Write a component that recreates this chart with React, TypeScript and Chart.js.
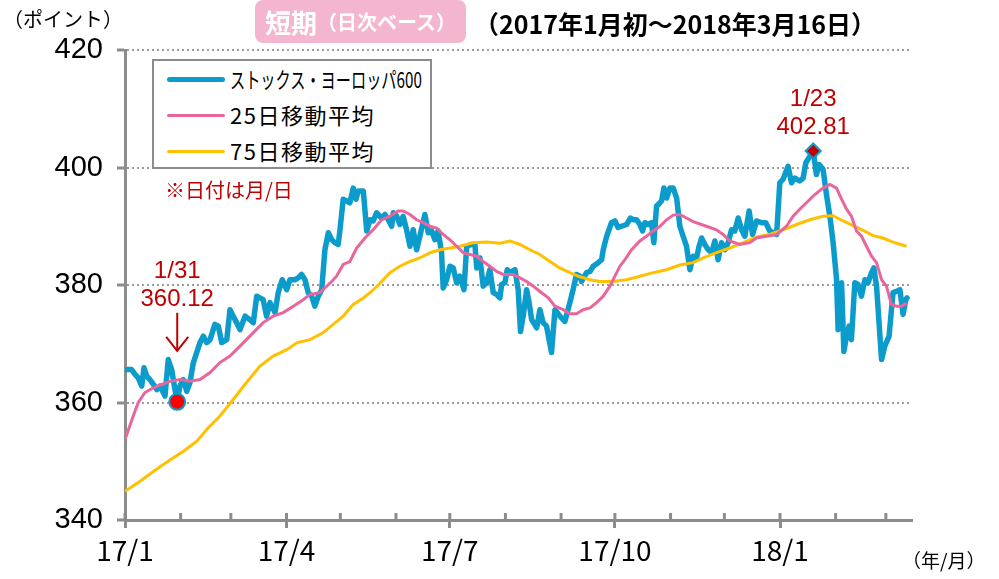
import React, { useEffect, useRef } from "react";
import { Chart, registerables } from "chart.js";

Chart.register(...registerables);

// x values are calendar-day offsets from 2017-01-01
const stoxxDays = [
  0, 3.7, 5.6, 7.4, 9.3, 10.6, 12.1, 13.9, 15.8, 17.7,
  19.5, 22.3, 24.1, 26.0, 27.5, 29.1, 30.6, 32.5, 34.4, 36.2,
  38.1, 41.8, 43.6, 45.5, 47.4, 50.1, 52.0, 53.9, 56.7, 58.5,
  60.3, 62.2, 64.1, 66.9, 69.6, 71.5, 73.4, 75.2, 77.0, 78.9,
  80.8, 83.6, 85.4, 87.6, 90.1, 91.9, 94.7, 96.5, 98.4, 100.3,
  102.1, 104.0, 105.8, 107.7, 109.6, 111.4, 113.3, 115.2, 117.0, 118.8,
  119.8, 121.6, 123.5, 125.3, 127.2, 128.7, 130.0, 132.8, 134.7, 136.5,
  138.3, 140.2, 143.0, 144.8, 146.7, 148.6, 149.5, 151.4, 153.2, 155.0,
  156.9, 158.8, 160.6, 162.5, 164.3, 167.1, 169.0, 170.9, 172.7, 174.5,
  176.4, 177.3, 179.2, 181.1, 182.9, 184.8, 186.6, 188.9, 190.4, 193.2,
  195.0, 196.0, 197.8, 199.6, 201.5, 203.3, 205.2, 207.1, 208.9, 209.9,
  211.7, 213.0, 214.5, 217.3, 219.1, 220.4, 221.9, 223.8, 225.2, 226.6,
  229.4, 231.2, 233.0, 234.9, 237.7, 239.6, 242.3, 245.1, 247.9, 249.7,
  251.6, 253.5, 254.4, 257.2, 259.1, 260.9, 263.7, 265.6, 266.5, 268.4,
  271.1, 273.0, 274.8, 276.7, 279.5, 281.7, 283.2, 285.1, 286.9, 288.4,
  289.7, 291.5, 293.4, 294.7, 296.2, 298.1, 299.0, 300.3, 301.8, 303.6,
  305.5, 307.4, 309.2, 311.0, 312.9, 314.8, 316.6, 318.5, 319.9, 321.3,
  323.1, 325.0, 326.9, 328.7, 330.5, 332.4, 334.3, 336.1, 338.0, 339.8,
  341.7, 343.6, 345.4, 347.8, 349.7, 351.9, 354.7, 357.1, 359.3, 361.2,
  363.1, 364.9, 366.7, 369.5, 371.4, 373.3, 376.0, 377.9, 379.4, 381.6,
  383.5, 385.3, 386.8, 389.0, 390.9, 392.8, 394.6, 396.5, 397.4, 399.3,
  400.6, 402.1, 403.5, 404.8, 406.7, 408.5, 410.4, 412.3, 414.1, 416.0,
  417.3, 418.8, 421.6, 423.4, 425.8, 427.1, 428.0, 429.9, 431.8, 433.6,
  435.1, 435.8,
];
const stoxxValues = [
  365.6, 365.6, 364.8, 364.2, 362.8, 365.9, 364.5, 363.9, 363.1, 362.2,
  362.8, 361.1, 367.3, 365.6, 362.8, 360.12, 362.8, 363.9, 361.9, 363.4,
  366.8, 370.2, 371.3, 370.2, 370.7, 373.3, 373.0, 370.2, 370.7, 375.8,
  374.7, 373.6, 372.4, 374.7, 374.1, 373.6, 378.1, 377.8, 377.5, 374.7,
  377.0, 375.3, 378.7, 380.9, 379.2, 380.9, 380.9, 381.2, 381.8, 380.9,
  378.7, 378.1, 376.4, 378.1, 379.2, 386.0, 388.9, 387.7, 387.2, 386.9,
  389.4, 394.6, 394.3, 394.0, 396.5, 394.6, 396.0, 396.0, 389.2, 391.1,
  390.9, 392.3, 391.4, 392.0, 391.1, 390.0, 392.3, 391.7, 390.3, 391.7,
  389.4, 386.6, 389.4, 386.0, 388.3, 392.0, 388.9, 389.2, 387.7, 389.2,
  385.5, 379.5, 380.9, 383.2, 382.9, 380.4, 381.5, 379.2, 386.6, 386.9,
  386.9, 382.9, 384.6, 379.8, 380.4, 382.6, 378.7, 378.4, 377.8, 380.1,
  380.4, 382.6, 382.1, 382.6, 379.2, 372.1, 374.7, 379.2, 377.0, 374.1,
  372.7, 375.8, 373.6, 373.0, 368.5, 375.8, 374.7, 373.8, 377.0, 379.2,
  381.8, 381.5, 380.6, 382.1, 382.3, 383.2, 383.8, 384.3, 386.0, 388.3,
  390.6, 390.9, 389.8, 390.0, 390.3, 391.4, 391.1, 391.1, 390.3, 389.2,
  390.6, 390.3, 390.6, 387.2, 393.4, 394.0, 394.3, 396.5, 394.8, 396.5,
  396.5, 394.8, 390.0, 388.3, 386.6, 382.6, 384.9, 384.6, 386.6, 388.0,
  386.9, 386.0, 385.5, 387.5, 384.3, 387.2, 386.0, 387.2, 389.4, 389.2,
  391.4, 389.4, 388.3, 392.6, 388.6, 390.9, 390.6, 390.6, 389.2, 388.9,
  388.6, 397.4, 398.0, 400.2, 397.4, 398.2, 397.7, 398.2, 400.8, 401.9,
  402.81, 398.8, 400.5, 399.7, 395.4, 391.7, 387.2, 381.0, 372.4, 380.4,
  368.7, 371.3, 373.0, 370.7, 380.4, 380.1, 378.1, 380.9, 380.4, 382.1,
  382.9, 379.8, 367.3, 369.6, 371.3, 375.8, 378.7, 378.9, 379.2, 375.0,
  377.5, 377.8,
];

const ma25Days = [
  0, 4.6, 7.4, 11.1, 15.8, 20.4, 25.1, 30.6, 36.2, 41.8,
  47.4, 52.9, 58.5, 64.1, 71.5, 77.0, 82.6, 88.2, 93.8, 99.3,
  103.1, 108.6, 111.4, 115.2, 117.9, 121.6, 125.3, 129.1, 133.7, 138.3,
  143.0, 147.6, 152.3, 155.0, 158.8, 162.5, 166.2, 169.9, 173.6, 177.3,
  181.1, 184.8, 188.5, 192.2, 195.9, 199.6, 203.3, 207.1, 210.8, 216.3,
  220.1, 223.8, 227.5, 231.2, 235.9, 239.6, 244.2, 247.9, 251.6, 255.3,
  259.1, 262.8, 266.5, 270.2, 273.0, 275.8, 278.6, 282.3, 286.9, 290.6,
  294.3, 298.1, 301.8, 305.5, 309.2, 312.9, 316.6, 324.0, 329.6, 333.3,
  337.0, 342.6, 348.2, 351.9, 357.5, 363.1, 368.6, 372.3, 376.0, 380.7,
  384.4, 389.0, 392.8, 396.5, 399.3, 402.1, 404.8, 407.6, 410.4, 413.2,
  416.0, 418.8, 421.6, 424.3, 427.1, 429.9, 432.7, 435.5,
];
const ma25Values = [
  353.7, 357.7, 360.0, 361.7, 362.5, 363.1, 363.6, 363.9, 363.6, 363.9,
  365.1, 366.8, 367.9, 369.6, 371.9, 373.6, 374.7, 375.3, 376.4, 377.5,
  378.4, 378.7, 379.5, 380.6, 381.5, 383.5, 384.0, 386.3, 388.0, 389.4,
  391.1, 391.7, 392.6, 392.6, 392.0, 391.1, 390.6, 390.0, 389.7, 388.6,
  387.7, 386.6, 385.5, 385.2, 384.9, 384.0, 383.2, 382.3, 381.8, 381.8,
  381.2, 380.6, 379.8, 378.9, 377.8, 376.4, 375.8, 375.1, 375.1, 375.8,
  376.1, 377.0, 378.1, 379.8, 381.5, 383.2, 384.3, 386.0, 387.5, 388.3,
  389.2, 390.0, 391.1, 391.9, 392.0, 391.4, 390.8, 390.0, 389.4, 388.6,
  387.5, 386.9, 387.2, 388.0, 388.3, 388.6, 390.0, 391.7, 392.9, 394.3,
  395.4, 396.5, 397.1, 396.5, 394.6, 392.9, 391.7, 389.2, 388.3, 386.6,
  384.9, 383.8, 380.9, 379.8, 376.7, 376.4, 376.4, 376.9,
];

const ma75Days = [
  0, 8, 16, 25, 33, 40, 46.4, 52.9, 60.3, 67.7,
  75.2, 82.6, 90.1, 96, 103.1, 110.5, 116.0, 121.6, 127.2, 132.8,
  137.4, 142.1, 147.6, 153.2, 158.8, 164.3, 169.9, 175.5, 181.1, 186.6,
  194.0, 201.5, 208.9, 214.5, 220.1, 225.6, 231.2, 236.8, 242.3, 247.9,
  253.5, 259.1, 264.6, 272.0, 279.5, 286.9, 294.3, 301.8, 309.2, 316.6,
  322.2, 329.6, 337.0, 344.5, 351.9, 359.3, 366.7, 374.2, 381.6, 389.0,
  394.6, 400.2, 405.7, 411.3, 416.9, 422.4, 428.0, 435.5,
];
const ma75Values = [
  344.9, 346.5, 348.3, 350.2, 351.8, 353.4, 355.7, 357.7, 360.5, 363.4,
  366.2, 367.9, 369.0, 370.2, 370.7, 371.9, 373.3, 374.7, 376.7, 377.8,
  378.9, 380.3, 382.1, 383.2, 384.0, 384.6, 385.5, 386.0, 386.3, 386.6,
  387.2, 387.3, 387.1, 387.5, 386.9, 386.0, 385.2, 384.0, 382.9, 382.1,
  381.4, 380.9, 380.6, 380.6, 380.9, 381.5, 382.1, 382.6, 383.4, 383.8,
  384.6, 385.5, 386.3, 387.2, 388.2, 388.6, 389.4, 390.3, 391.1, 391.7,
  391.8, 390.9, 390.1, 389.3, 388.4, 388.0, 387.3, 386.6,
];

const monthTickDays = [0, 31, 59, 90, 120, 151, 181, 212, 243, 273, 304, 334, 365, 396, 424];
const labelTickDays = [0, 90, 181, 273, 365];
const labelTickTexts = ["17/1", "17/4", "17/7", "17/10", "18/1"];
const yTicks = [340, 360, 380, 400, 420];

const markerDays = [29.1, 383.5];
const markerValues = [360.12, 402.81];
const markerDates = ["1/31", "1/23"];

const seriesNames = ["ストックス・ヨーロッパ600", "25日移動平均", "75日移動平均"];
const seriesColors = ["#0b9ccb", "#e8669c", "#ffc000"];

const DARK_RED = "#c00000";
const JP = '"Noto Sans CJK JP", "Liberation Sans", sans-serif';
const NARROW = '"Liberation Sans Narrow", "Noto Sans CJK JP", "Liberation Sans", sans-serif';

const monthTicksPlugin = {
  id: "monthTicks",
  afterDraw(chart: any) {
    const { ctx, scales, chartArea } = chart;
    const x = scales.x;
    ctx.save();
    ctx.strokeStyle = "#8c8c8c";
    ctx.lineWidth = 3;
    monthTickDays.forEach((d) => {
      const px = x.getPixelForValue(d);
      ctx.beginPath();
      ctx.moveTo(px, chartArea.bottom);
      ctx.lineTo(px, chartArea.bottom - 7);
      ctx.stroke();
    });
    ctx.restore();
  },
};

const annotationPlugin = {
  id: "markerNotes",
  afterDatasetsDraw(chart: any) {
    const { ctx, scales } = chart;
    const x = scales.x;
    const y = scales.y;
    ctx.save();
    ctx.fillStyle = DARK_RED;
    ctx.strokeStyle = DARK_RED;
    ctx.textAlign = "center";
    ctx.textBaseline = "middle";
    ctx.font = '24px "Liberation Sans", Arial, sans-serif';
    // low marker
    const p0x = x.getPixelForValue(markerDays[0]);
    const p0y = y.getPixelForValue(markerValues[0]);
    ctx.fillText(markerDates[0], p0x, p0y - 130);
    ctx.fillText(markerValues[0].toFixed(2), p0x, p0y - 102);
    ctx.lineWidth = 2;
    ctx.beginPath();
    ctx.moveTo(p0x, p0y - 89);
    ctx.lineTo(p0x, p0y - 51);
    ctx.stroke();
    ctx.beginPath();
    ctx.moveTo(p0x - 11, p0y - 65);
    ctx.lineTo(p0x, p0y - 51);
    ctx.lineTo(p0x + 11, p0y - 65);
    ctx.stroke();
    // high marker
    const p1x = x.getPixelForValue(markerDays[1]);
    const p1y = y.getPixelForValue(markerValues[1]);
    ctx.fillText(markerDates[1], p1x, p1y - 52);
    ctx.fillText(markerValues[1].toFixed(2), p1x, p1y - 24);
    ctx.restore();
  },
};

export default function App() {
  const canvasRef = useRef<HTMLCanvasElement | null>(null);

  useEffect(() => {
    document.body.style.margin = "0";
    const canvas = canvasRef.current;
    if (!canvas) return;
    const toPts = (days: number[], vals: number[]) => days.map((d, i) => ({ x: d, y: vals[i] }));
    const chart = new Chart(canvas, {
      type: "line",
      data: {
        datasets: [
          {
            label: "markers",
            data: toPts(markerDays, markerValues),
            showLine: false,
            pointStyle: ["circle", "rectRot"] as any,
            pointRadius: [8, 7.5] as any,
            pointBackgroundColor: ["#ff0000", DARK_RED] as any,
            pointBorderColor: seriesColors[0],
            pointBorderWidth: 2,
            order: 0,
          },
          {
            label: seriesNames[1],
            data: toPts(ma25Days, ma25Values),
            borderColor: seriesColors[1],
            borderWidth: 3,
            pointRadius: 0,
            tension: 0,
            order: 1,
          },
          {
            label: seriesNames[2],
            data: toPts(ma75Days, ma75Values),
            borderColor: seriesColors[2],
            borderWidth: 3,
            pointRadius: 0,
            tension: 0,
            order: 2,
          },
          {
            label: seriesNames[0],
            data: toPts(stoxxDays, stoxxValues),
            borderColor: seriesColors[0],
            borderWidth: 5.5,
            borderJoinStyle: "round",
            borderCapStyle: "round",
            pointRadius: 0,
            tension: 0,
            order: 3,
          },
        ],
      },
      options: {
        animation: false,
        responsive: false,
        devicePixelRatio: 1,
        layout: { padding: { top: 50, right: 88, left: 0, bottom: 0 } },
        plugins: {
          legend: { display: false },
          tooltip: { enabled: false },
          title: { display: false },
        },
        scales: {
          x: {
            type: "linear",
            min: 0,
            max: 438,
            afterBuildTicks: (s: any) => {
              s.ticks = monthTickDays.map((v) => ({ value: v }));
            },
            afterFit: (s: any) => {
              s.height = 59;
            },
            ticks: {
              autoSkip: false,
              maxRotation: 0,
              padding: 6,
              color: "#000",
              font: { family: NARROW, size: 28 },
              callback: (v: any) => {
                const i = labelTickDays.indexOf(Number(v));
                return i >= 0 ? labelTickTexts[i] : "";
              },
            },
            grid: {
              drawOnChartArea: false,
              drawTicks: true,
              tickLength: 8,
              lineWidth: 3,
              color: (c: any) =>
                c.tick && labelTickDays.includes(c.tick.value) ? "#8c8c8c" : "rgba(0,0,0,0)",
            },
            border: { display: true, color: "#8c8c8c", width: 3 },
          },
          y: {
            min: 340,
            max: 420,
            afterBuildTicks: (s: any) => {
              s.ticks = yTicks.map((v) => ({ value: v }));
            },
            afterFit: (s: any) => {
              s.width = 125;
            },
            ticks: {
              padding: 14,
              color: "#000",
              font: { family: '"Liberation Sans", Arial, sans-serif', size: 29 },
            },
            grid: {
              drawTicks: true,
              tickLength: 8,
              lineWidth: 2,
              tickWidth: 3,
              tickColor: "#8c8c8c",
              color: (c: any) => (c.tick && c.tick.value === 340 ? "rgba(0,0,0,0)" : "#9a9a9a"),
            },
            border: { display: true, color: "#8c8c8c", width: 3, dash: [2, 3] },
          },
        },
      },
      plugins: [monthTicksPlugin, annotationPlugin],
    });
    return () => chart.destroy();
  }, []);

  const legendRow = (i: number, top: number, lw: number, squeeze: number) => (
    <div key={i} style={{ position: "absolute", left: 0, top, height: 36, width: 276 }}>
      <div
        style={{
          position: "absolute",
          left: 13,
          top: 18 - lw / 2,
          width: 58,
          height: lw,
          borderRadius: lw / 2,
          background: seriesColors[i],
        }}
      />
      <div
        style={{
          position: "absolute",
          left: 76,
          top: 2,
          fontFamily: JP,
          fontSize: 22,
          lineHeight: "31px",
          whiteSpace: "nowrap",
          letterSpacing: squeeze === 1 ? 1.5 : 0,
          transform: `scaleX(${squeeze})`,
          transformOrigin: "left center",
          color: "#000",
        }}
      >
        {seriesNames[i]}
      </div>
    </div>
  );

  return (
    <div style={{ position: "absolute", left: 0, top: 0, width: 999, height: 579, background: "#fff", overflow: "hidden" }}>
      <canvas ref={canvasRef} width={999} height={579} style={{ display: "block", width: 999, height: 579 }} />
      <div style={{ position: "absolute", left: 3, top: 4, fontFamily: JP, fontSize: 20, color: "#000", whiteSpace: "nowrap" }}>
        （ポイント）
      </div>
      <div
        style={{
          position: "absolute",
          left: 255,
          top: 0,
          width: 211,
          height: 43,
          background: "#f4b5cf",
          borderRadius: 8,
          display: "flex",
          alignItems: "center",
          justifyContent: "center",
          color: "#fff",
          fontFamily: JP,
          fontWeight: 700,
          whiteSpace: "nowrap",
        }}
      >
        <span style={{ fontSize: 26 }}>短期</span>
        <span style={{ fontSize: 20 }}>（日次ベース）</span>
      </div>
      <div
        style={{
          position: "absolute",
          left: 474,
          top: 5,
          fontFamily: NARROW,
          fontWeight: 700,
          fontSize: 25,
          color: "#000",
          whiteSpace: "nowrap",
        }}
      >
        （2017年1月初～2018年3月16日）
      </div>
      <div
        style={{
          position: "absolute",
          left: 152,
          top: 59,
          width: 276,
          height: 106,
          border: "2px solid #8c8c8c",
          background: "#fff",
        }}
      >
        {legendRow(0, 0, 5, 0.69)}
        {legendRow(1, 36, 3, 1)}
        {legendRow(2, 72, 3, 1)}
      </div>
      <div style={{ position: "absolute", left: 165, top: 175, fontFamily: JP, fontSize: 20, color: DARK_RED, whiteSpace: "nowrap" }}>
        ※日付は月/日
      </div>
      <div style={{ position: "absolute", left: 902, top: 546, fontFamily: JP, fontSize: 19, color: "#000", whiteSpace: "nowrap" }}>
        （年/月）
      </div>
    </div>
  );
}
